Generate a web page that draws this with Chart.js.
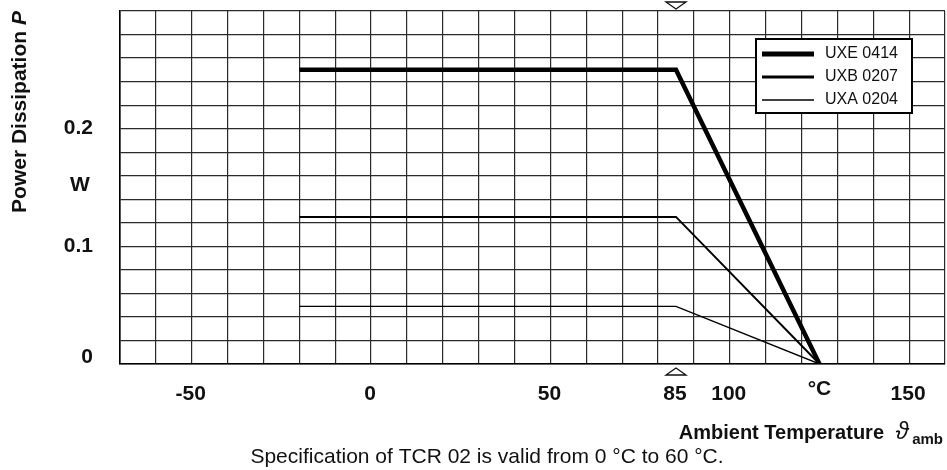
<!DOCTYPE html>
<html>
<head>
<meta charset="utf-8">
<script src="https://cdn.jsdelivr.net/npm/chart.js@4/dist/chart.umd.min.js"></script>
<style>
  html, body { margin: 0; padding: 0; background: #fff; }
  #chart { display: block; }
</style>
</head>
<body>
<canvas id="chart" width="947" height="470"></canvas>
<script>
// derating curves
const tempC = [-20, 85, 125];
const uxe0414 = [0.25, 0.25, 0];
const uxb0207 = [0.125, 0.125, 0];
const uxa0204 = [0.049, 0.049, 0];
const seriesNames = ["UXE 0414", "UXB 0207", "UXA 0204"];

// axis labelling
const xTicks = [-50, 0, 50, 85, 100, 150];
const xUnit = "°C";
const xUnitAt = 125;
const yTicks = [0, 0.1, 0.2];
const yUnit = "W";
const yUnitAt = 0.15;
const markAt = 85;  // the little triangles

const FONT = '"Liberation Sans", Arial, Helvetica, sans-serif';

function toPoints(ys) {
    return tempC.map((t, i) => ({ x: t, y: ys[i] }));
}

const decorations = {
    id: "decorations",
    afterDraw(chart) {
        const ctx = chart.ctx;
        const xs = chart.scales.x;
        const ys = chart.scales.y;
        const area = chart.chartArea;
        ctx.save();
        ctx.fillStyle = "#111";

        // y tick labels
        ctx.font = "bold 21px " + FONT;
        ctx.textAlign = "right";
        ctx.textBaseline = "middle";
        yTicks.forEach(v => {
            let py = Math.min(ys.getPixelForValue(v), area.bottom - 7);
            ctx.fillText(String(v), 93, py);
        });
        ctx.textAlign = "center";
        ctx.fillText(yUnit, 80, ys.getPixelForValue(yUnitAt) - 2);

        // x tick labels
        xTicks.forEach(v => {
            ctx.fillText(String(v), xs.getPixelForValue(v) - 1, area.bottom + 30);
        });
        ctx.fillText(xUnit, xs.getPixelForValue(xUnitAt), area.bottom + 25);

        // triangles at 85
        const tx = xs.getPixelForValue(markAt);
        ctx.strokeStyle = "#111";
        ctx.lineWidth = 1.3;
        ctx.beginPath();
        ctx.moveTo(tx - 10, area.top - 9);
        ctx.lineTo(tx + 10, area.top - 9);
        ctx.lineTo(tx, area.top - 2);
        ctx.closePath();
        ctx.stroke();
        ctx.beginPath();
        ctx.moveTo(tx - 10, area.bottom + 11);
        ctx.lineTo(tx + 10, area.bottom + 11);
        ctx.lineTo(tx, area.bottom + 4);
        ctx.closePath();
        ctx.stroke();

        // y title, rotated
        ctx.save();
        ctx.translate(26, 112);
        ctx.rotate(-Math.PI / 2);
        ctx.textBaseline = "alphabetic";
        ctx.textAlign = "left";
        const t1 = "Power Dissipation ";
        ctx.font = "bold italic 21px " + FONT;
        const wP = ctx.measureText("P").width;
        ctx.font = "bold 21px " + FONT;
        const w1 = ctx.measureText(t1).width;
        const start = -(w1 + wP) / 2;
        ctx.fillText(t1, start, 0);
        ctx.font = "bold italic 21px " + FONT;
        ctx.fillText("P", start + w1, 0);
        ctx.restore();

        // x title, right aligned
        ctx.textBaseline = "alphabetic";
        ctx.textAlign = "right";
        ctx.font = "bold 15px " + FONT;
        ctx.fillText("amb", 943, 444);
        ctx.textAlign = "center";
        ctx.font = "italic 24px " + FONT;
        ctx.fillText("ϑ", 902, 439);
        ctx.textAlign = "right";
        ctx.font = "bold 20px " + FONT;
        ctx.fillText("Ambient Temperature", 884, 439);

        // note under the chart
        ctx.textAlign = "center";
        ctx.font = "21px " + FONT;
        ctx.fillText("Specification of TCR 02 is valid from 0 °C to 60 °C.", 487, 463);

        // legend box
        const lx = 756, ly = 39, lw = 156, lh = 74;
        ctx.fillStyle = "#fff";
        ctx.fillRect(lx, ly, lw, lh);
        ctx.strokeStyle = "#000";
        ctx.lineWidth = 2;
        ctx.strokeRect(lx, ly, lw, lh);
        ctx.font = "16px " + FONT;
        ctx.textAlign = "left";
        ctx.textBaseline = "middle";
        chart.data.datasets.forEach((ds, i) => {
            const y = ly + 15 + i * 23;
            ctx.strokeStyle = ds.borderColor;
            ctx.lineWidth = ds.legendWidth;
            ctx.beginPath();
            ctx.moveTo(lx + 6, y);
            ctx.lineTo(lx + 58, y);
            ctx.stroke();
            ctx.fillStyle = "#111";
            ctx.fillText(ds.label, lx + 69, y);
        });
        ctx.restore();
    }
};

const ctx = document.getElementById("chart");
new Chart(ctx, {
    type: "line",
    data: {
        datasets: [
            { label: seriesNames[0], data: toPoints(uxe0414), borderColor: "#000", borderWidth: 4.5, legendWidth: 5 },
            { label: seriesNames[1], data: toPoints(uxb0207), borderColor: "#000", borderWidth: 2, legendWidth: 3 },
            { label: seriesNames[2], data: toPoints(uxa0204), borderColor: "#000", borderWidth: 1.4, legendWidth: 1.6 }
        ]
    },
    options: {
        responsive: false,
        animation: false,
        devicePixelRatio: 1,
        layout: { padding: { left: 120, top: 11, right: 2, bottom: 106 } },
        elements: {
            point: { radius: 0 },
            line: { tension: 0, borderJoinStyle: "miter", borderCapStyle: "butt", fill: false }
        },
        plugins: {
            legend: { display: false },
            tooltip: { enabled: false }
        },
        scales: {
            x: {
                type: "linear",
                min: -70,
                max: 160,
                ticks: { display: false, stepSize: 10 },
                grid: { color: "#2a2a2a", lineWidth: 1.2, drawTicks: false },
                border: { display: true, color: "#000", width: 1.6 },
                afterFit(scale) { scale.height = 0; }
            },
            y: {
                min: 0,
                max: 0.3,
                ticks: { display: false, stepSize: 0.02 },
                grid: { color: "#2a2a2a", lineWidth: 1.2, drawTicks: false },
                border: { display: true, color: "#000", width: 1.6 },
                afterFit(scale) { scale.width = 0; }
            }
        }
    },
    plugins: [decorations]
});
</script>
</body>
</html>
